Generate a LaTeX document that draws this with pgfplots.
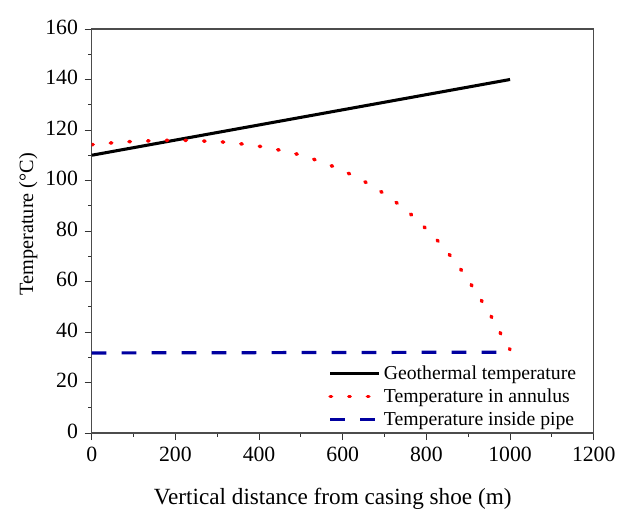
\documentclass[border=0pt]{standalone}
\usepackage{pgfplots}
\pgfplotsset{compat=1.18}
\usepackage{fontspec}
\setmainfont{Liberation Serif}
\definecolor{pipeblue}{RGB}{0,0,160}
\begin{document}
\begin{tikzpicture}
\begin{axis}[
  scale only axis,
  width=376.5pt, height=303pt,
  xmin=0, xmax=1200, ymin=0, ymax=160,
  xtick={0,200,...,1200}, ytick={0,20,...,160},
  xticklabels={0,200,400,600,800,1000,1200},
  yticklabels={0,20,40,60,80,100,120,140,160},
  minor x tick num=1, minor y tick num=1,
  tick pos=left,
  tick align=outside,
  major tick length=5.3pt, minor tick length=2.7pt,
  axis line style={black!70, line width=0.9pt},
  every tick/.style={black!80, line width=0.7pt},
  ticklabel style={font=\fontsize{16.3}{18}\selectfont},
  xticklabel style={yshift=-1.5pt},
  yticklabel style={xshift=-1.5pt, yshift=1.5pt},
  xlabel={Vertical distance from casing shoe (m)},
  ylabel={Temperature (\textdegree C)},
  xlabel style={font=\fontsize{17.4}{20}\selectfont, at={(axis description cs:0.5,0)}, anchor=base, yshift=-54pt, xshift=-7.5pt},
  ylabel style={font=\fontsize{15.2}{18}\selectfont, at={(axis description cs:0,0.517)}, anchor=base, rotate=0, yshift=44pt},
  legend style={draw=none, fill=none, at={(1,0)}, anchor=south east, xshift=-10pt, yshift=1pt,
    font=\fontsize{14.8}{17}\selectfont, row sep=1.5pt, inner sep=1pt},
  legend cell align=left,
  legend image code/.code={\draw[#1] (0pt,0pt) -- (37pt,0pt);},
]
\addplot[black, line width=2.3pt] coordinates {(0,110) (1000,140)};
\addlegendentry{Geothermal temperature}
\addplot[red, line width=2.6pt, line cap=round, dash pattern=on 1.1pt off 12.9pt, smooth] coordinates {
(0,114.2) (49,114.9) (93,115.4) (138,115.7) (182,115.9) (227,115.9) (272,115.6) (317,115.2)
(362,114.4) (406,113.4) (450,112.0) (494,110.3) (538,108.0) (578,105.5) (618,102.5)
(657,99.1) (695,95.2) (731,90.9) (765,86.3) (797,81.2) (830,75.6) (859,69.8) (887,63.7)
(912,57.5) (936,51.3) (960,44.7) (982,38.0) (1000,33.0)};
\addlegendentry{Temperature in annulus}
\addplot[pipeblue, line width=2.4pt, dash pattern=on 11pt off 11.5pt] coordinates {(0,31.7) (1000,32.0)};
\addlegendentry{Temperature inside pipe}
\end{axis}
\path ([shift={(-68.8pt,-57.5pt)}]current axis.south west) rectangle ([shift={(24.2pt,21.75pt)}]current axis.north east);
\end{tikzpicture}
\end{document}
